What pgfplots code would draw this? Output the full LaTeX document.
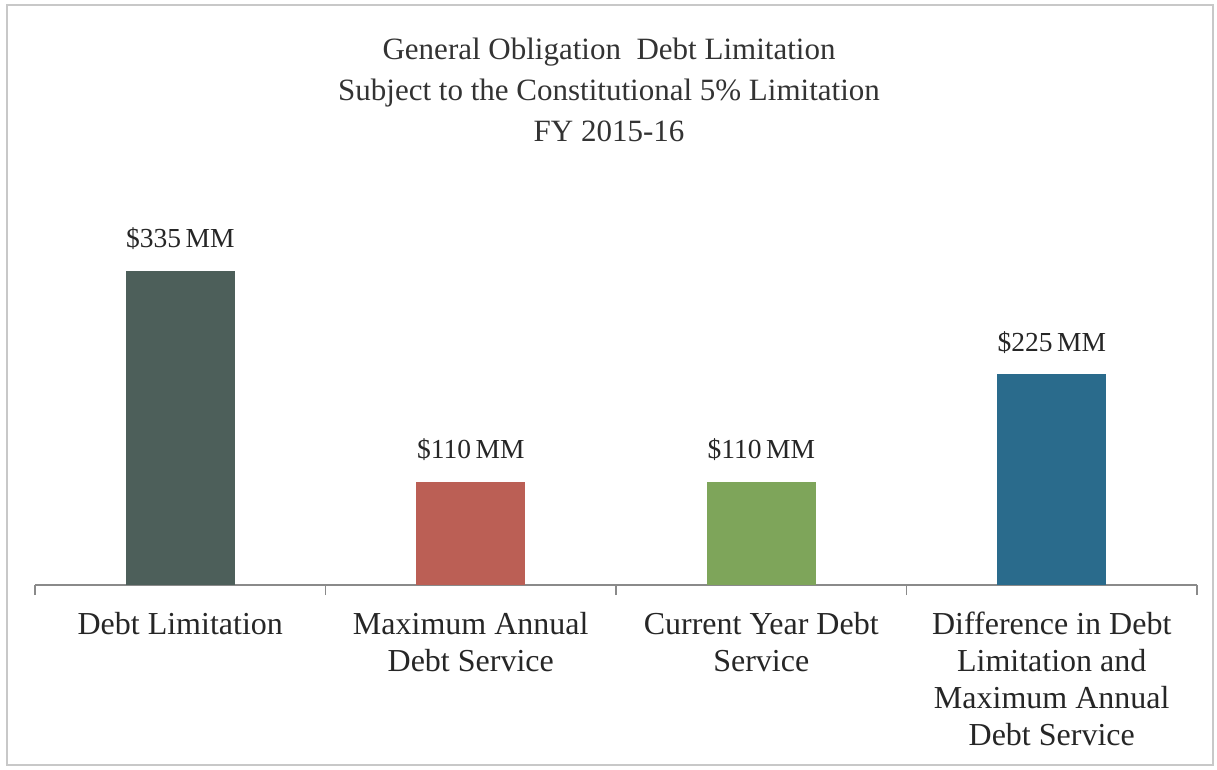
\documentclass[border=0pt]{standalone}
\usepackage{pgfplots}
\pgfplotsset{compat=1.18}
\usepackage{fontspec}
\setmainfont{Liberation Serif}
\definecolor{cA}{HTML}{4D5F5A}
\definecolor{cB}{HTML}{BB5F55}
\definecolor{cC}{HTML}{7EA55A}
\definecolor{cD}{HTML}{2A6B8C}
\definecolor{frame}{HTML}{C8C8C8}
\definecolor{axisc}{HTML}{8A8A8A}
\begin{document}
\begin{tikzpicture}[x=1pt,y=1pt]
\path[use as bounding box] (0,0) rectangle (1217,769);
\draw[frame, line width=1.5pt] (7,4) rectangle (1213,764);
\node[align=center, font=\fontsize{31}{41}\selectfont, text=black!80] at (609,679)
  {General Obligation\ \ Debt Limitation\\Subject to the Constitutional 5\% Limitation\\FY 2015-16};
\begin{axis}[
  at={(35pt,184pt)}, anchor=south west,
  scale only axis, width=1162pt, height=375pt,
  xmin=-0.5, xmax=3.5, ymin=0, ymax=400,
  axis x line=bottom, axis y line=none,
  x axis line style={-, axisc, line width=1.2pt},
  xtick={0,1,2,3},
  xticklabels={{Debt Limitation},{Maximum Annual\\Debt Service},{Current Year Debt\\Service},{Difference in Debt\\Limitation and\\Maximum Annual\\Debt Service}},
  major tick length=0pt,
  xticklabel style={align=center, anchor=north, inner sep=0pt, yshift=-27pt,
    font=\fontsize{32}{37}\selectfont, text=black!85},
  extra x ticks={-0.5,0.5,1.5,2.5,3.5},
  extra x tick labels={},
  extra x tick style={major tick length=10pt, tick align=outside,
    tick style={axisc, line width=1.2pt}},
  ybar, bar width=109pt, bar shift=0pt,
  clip=false,
  point meta=explicit symbolic,
  nodes near coords,
  every node near coord/.style={anchor=base, yshift=23pt, inner sep=0pt,
    font=\fontsize{27.5}{30}\selectfont, text=black!85},
]
\addplot[fill=cA, draw=none] coordinates {(0,335) [\$335\,MM]};
\addplot[fill=cB, draw=none] coordinates {(1,110) [\$110\,MM]};
\addplot[fill=cC, draw=none] coordinates {(2,110) [\$110\,MM]};
\addplot[fill=cD, draw=none] coordinates {(3,225) [\$225\,MM]};
\end{axis}
\end{tikzpicture}
\end{document}
